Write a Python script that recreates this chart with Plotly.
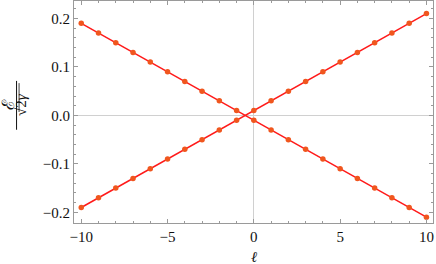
import plotly.graph_objects as go

ell = [-10, -9, -8, -7, -6, -5, -4, -3, -2, -1, 0, 1, 2, 3, 4, 5, 6, 7, 8, 9, 10]
energy_up = [-0.19, -0.17, -0.15, -0.13, -0.11, -0.09, -0.07, -0.05, -0.03, -0.01,
             0.01, 0.03, 0.05, 0.07, 0.09, 0.11, 0.13, 0.15, 0.17, 0.19, 0.21]
energy_down = [0.19, 0.17, 0.15, 0.13, 0.11, 0.09, 0.07, 0.05, 0.03, 0.01,
               -0.01, -0.03, -0.05, -0.07, -0.09, -0.11, -0.13, -0.15, -0.17, -0.19, -0.21]
x_ticks = [-10, -5, 0, 5, 10]
y_ticks = [-0.2, -0.1, 0.0, 0.1, 0.2]

LINE = "#FF1A1A"
MARK = "#F0561E"
FONT = "Liberation Serif"

fig = go.Figure()
for ys in (energy_up, energy_down):
    fig.add_trace(go.Scatter(x=ell, y=ys, mode="lines+markers",
                             line=dict(color=LINE, width=1.5),
                             marker=dict(color=MARK, size=5.5),
                             cliponaxis=False,
                             showlegend=False, hoverinfo="skip"))

axis_common = dict(
    showline=True, linecolor="#9a9a9a", linewidth=1, mirror="allticks",
    ticks="inside", ticklen=4, tickwidth=1, tickcolor="#9a9a9a",
    showgrid=False, zeroline=True, zerolinecolor="#d0d0d0", zerolinewidth=1,
    automargin=False,
    tickfont=dict(family=FONT, size=15, color="#111"),
)

fig.update_xaxes(range=[-10.42, 10.38], tickvals=x_ticks,
                 minor=dict(dtick=1, ticks="inside", ticklen=2, tickcolor="#9a9a9a", showgrid=False),
                 **axis_common)
fig.update_yaxes(range=[-0.222, 0.236], tickvals=y_ticks, tickformat=".1f",
                 minor=dict(dtick=0.02, tick0=0, ticks="inside", ticklen=2, tickcolor="#9a9a9a", showgrid=False),
                 **axis_common)

# x-axis label
fig.add_annotation(text="<i>ℓ</i>", xref="paper", yref="paper", x=0.5, y=-0.155,
                   yanchor="middle", showarrow=False,
                   font=dict(family=FONT, size=15, color="#111"))
# y-axis label: fraction E / sqrt(2 gamma), rotated
fig.add_annotation(text="ℰ", xref="paper", yref="paper", x=-0.183, y=0.535,
                   xanchor="center", yanchor="middle", showarrow=False, textangle=-90,
                   font=dict(family=FONT, size=17, color="#111"))
fig.add_annotation(text="√2<i>γ</i>", xref="paper", yref="paper", x=-0.148, y=0.535,
                   xanchor="center", yanchor="middle", showarrow=False, textangle=-90,
                   font=dict(family=FONT, size=15, color="#111"))
fig.add_shape(type="line", xref="paper", yref="paper", x0=-0.160, x1=-0.160, y0=0.42, y1=0.64,
              line=dict(color="#111", width=1))
fig.add_shape(type="line", xref="paper", yref="paper", x0=-0.153, x1=-0.153, y0=0.50, y1=0.63,
              line=dict(color="#111", width=0.8))

fig.update_layout(width=436, height=264, margin=dict(l=74, r=3, t=1, b=41),
                  plot_bgcolor="white", paper_bgcolor="white",
                  font=dict(family=FONT))
fig.write_html("out.html", config={"displayModeBar": False},
               post_script="document.body.style.margin='0';document.body.style.padding='0';")
